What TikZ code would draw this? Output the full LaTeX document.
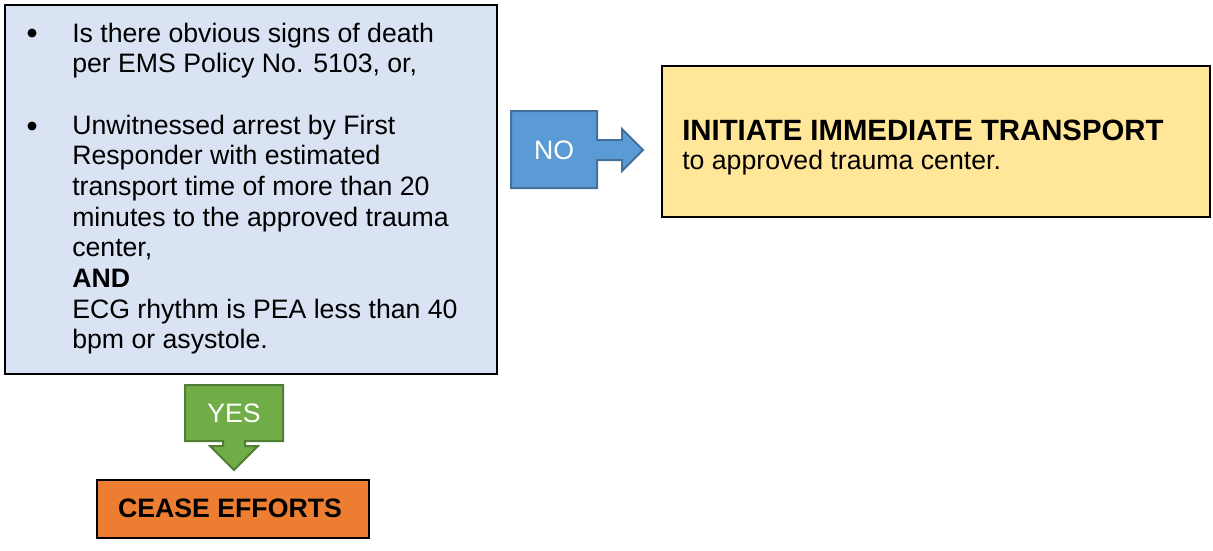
\documentclass[tikz,border=0pt]{standalone}
\usepackage{fontspec}
\setmainfont{Liberation Sans}
\definecolor{qfill}{HTML}{DAE3F3}
\definecolor{yfill}{HTML}{FFE699}
\definecolor{ofill}{HTML}{ED7D31}
\definecolor{bfill}{HTML}{5B9BD5}
\definecolor{bline}{HTML}{41719C}
\definecolor{gfill}{HTML}{70AD47}
\definecolor{gline}{HTML}{507E32}
\tikzset{
  boxq/.style={draw=black, line width=1.5pt, fill=qfill, inner sep=0pt},
  boxy/.style={draw=black, line width=1.5pt, fill=yfill, inner sep=0pt},
  boxo/.style={draw=black, line width=2.2pt, fill=ofill, inner sep=0pt},
  txt/.style={anchor=base west, inner sep=0pt, font=\fontsize{20}{23}\selectfont},
  btxt/.style={anchor=base west, inner sep=0pt, font=\fontsize{20}{23}\selectfont\bfseries},
  arrno/.style={draw=bline, line width=1.5pt, fill=bfill, line join=miter},
  arryes/.style={draw=gline, line width=1.5pt, fill=gfill, line join=miter},
  atxt/.style={text=white, inner sep=0pt, font=\fontsize{20}{23}\selectfont},
  dot/.style={circle, fill=black, inner sep=0pt, minimum size=6.8pt},
}
\begin{document}
\begin{tikzpicture}[x=0.75pt,y=-0.75pt]
\useasboundingbox (0,0) rectangle (1213,550);
% question box
\node[boxq, minimum width=369pt, minimum height=276.75pt] (q) at (251,189.5) {};
\node[dot] (b1) at (32,33) {};
\node[txt] (l1) at (72,42) {Is there obvious signs of death};
\node[txt] (l2) at (72,72.7) {per EMS Policy No. 5103, or,};
\node[dot] (b2) at (32,126) {};
\node[txt] (l3) at (72,134) {Unwitnessed arrest by First};
\node[txt] (l4) at (72,164.6) {Responder with estimated};
\node[txt] (l5) at (72,195.3) {transport time of more than 20};
\node[txt] (l6) at (72,226) {minutes to the approved trauma};
\node[txt] (l7) at (72,256.6) {center,};
\node[btxt] (l8) at (72,287.3) {AND};
\node[txt] (l9) at (72,318) {ECG rhythm is PEA less than 40};
\node[txt] (l10) at (72,348.6) {bpm or asystole.};
% NO arrow
\draw[arrno] (511,111) -- (597,111) -- (597,140) -- (622,140) -- (622,129) -- (643,150)
  -- (622,171) -- (622,160) -- (597,160) -- (597,188) -- (511,188) -- cycle;
\node[atxt] (no) at (554,150) {NO};
% transport box
\node[boxy, minimum width=411pt, minimum height=113.25pt] (t) at (936,141.5) {};
\node[btxt, font=\fontsize{22}{25}\selectfont\bfseries] (t1) at (682,140) {INITIATE IMMEDIATE TRANSPORT};
\node[txt] (t2) at (682,169) {to approved trauma center.};
% YES arrow
\draw[arryes] (185,385) -- (283,385) -- (283,441) -- (245,441) -- (245,446) -- (258,446) -- (234,470)
  -- (210,446) -- (223,446) -- (223,441) -- (185,441) -- cycle;
\node[atxt] (yes) at (234,413) {YES};
% cease box
\node[boxo, minimum width=204pt, minimum height=43.5pt] (c) at (233,509) {};
\node[btxt, anchor=base] (c1) at (230,517) {CEASE EFFORTS};
\end{tikzpicture}
\end{document}
